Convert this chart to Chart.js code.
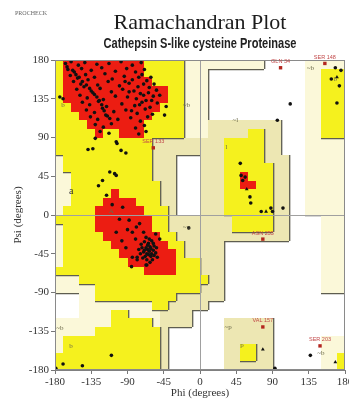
<!DOCTYPE html>
<html>
<head>
<meta charset="utf-8">
<script src="https://cdn.jsdelivr.net/npm/chart.js@4.4.1/dist/chart.umd.min.js"></script>
<style>
  html, body { margin: 0; padding: 0; background: #fff; }
  canvas { display: block; }
</style>
</head>
<body>
<canvas id="rama" width="349" height="404"></canvas>
<script>
// ---- Plot text ----
const titleText = 'Ramachandran Plot';
const subtitleText = 'Cathepsin S-like cysteine Proteinase';
const programTag = 'PROCHECK';
const xAxisTitle = 'Phi (degrees)';
const yAxisTitle = 'Psi (degrees)';
const tickValues = [-180, -135, -90, -45, 0, 45, 90, 135, 180];

// ---- Region map: 10-degree cells, rows from psi 180 downwards, columns from phi -180 ----
// R core, Y allowed, G / P generously allowed, W disallowed
const cellSize = 10;
const regionRows = [
  'YRRRRRRRRRRYYYYYPPPPPPPPPPWWWWWPPPPP',
  'YRRRRRRRRRRYYYYYPPPWWWWWWWWWWWWPPYYY',
  'YRRRRRRRRRRRYYYYPPPWWWWWWWWWWWWPPYYY',
  'YRRRRRRRRRRRRRYYPPPWWWWWWWWWWWWPPYYY',
  'YRRRRRRRRRRRRRYYPPPWWWWWWWWWWWWPPYYY',
  'YYRRRRRRRRRRRYYYPPPWWWWWWWWWWWWPPYYY',
  'YYYRRRRRRRRRYYYYPPPWWWWWWWWWWWWPPYYY',
  'YYYYRRRRRRRYYYYYPPPGGGGGGGGGWWWPPYYY',
  'YYYYYRYYRRRYYYYYPPPGGGGGYYGGWWWPPYYY',
  'YYYYYYYYYYYYGGGGGGGGGYYYYYGGWWWPPPPP',
  'YYYYYYYYYYYYGGGGGGGGGYYYYYGGWWWPPPPP',
  'PYYYYYYYYYYYGGGWWWGGGYYYYYGGGWWPPPPP',
  'PYYYYYYYYYYYGGGWWWGGGYYYYYYGGWWPPPPP',
  'PPYYYYYYYYYYGGGWWWGGGYYRYYYGGWWPPPPP',
  'PPYYYYYYYYYYYGGWWWGGGYYRRYYGGWWPPPPP',
  'PPYYYYYRYYYYYGGWWWGGGYYYYYYGGWWPPPPP',
  'PPYYYYRRRRYYYGGWWWGGGYYYYYYGGWWPPPPP',
  'PYYYYRRRRRRYYYGWWWGGGYYYYYYGGWWPPPPP',
  'YYYYYRRRRRRRYYGGGGGGGGYYYYYGGWWWWPPP',
  'PYYYYRRRRRRRYYGGGGGGGGYYYYYGGWWWWPPP',
  'PYYYYYRRRRRRRYYGGGGGGGGGGGGGGWWWWPPP',
  'PYYYYYYRRRRRRRYYGGGGGWWWWWWWWWWWWPPP',
  'PYYYYYYYRRRRRRRYGGGGGWWWWWWWWWWWWPPP',
  'PYYYYYYYYRRRRRRYYYGGGWWWWWWWWWWWWPPP',
  'YYYYYYYYYYYRRRRYYYGGGWWWWWWWWWWWWPPP',
  'PPPYYYYYYYYYYYYYYYYGGWWWWWWWWWWWWPPP',
  'PPPPPYYYYYYYYYYYYYGGGWWWWWWWWWWWWPPP',
  'WWWPPYYYYYYYYYYGGGGGGWWWWWWWWWWWWWWW',
  'WWWPPPPPPPPPYYGGGGGWWWWWWWWWWWWWWWWW',
  'WWWPPPPYYPPPPGGGGWWWWWWWWWWWWWWWWWWW',
  'PPPPPPPYYYYYPGGGGWWWWGGGGGGWWWWWWWWW',
  'PPPPPYYYYYYYYGWWWWWWWGGGGGGWWWWWWWWW',
  'PYYYYYYYYYYYYGWWWWWWWGGGGGGWWWWWWPPP',
  'PYYYYYYYYYYYYGWWWWWWWGGYYGGWWWWWWPPP',
  'YYYYYYYYYYYYYGWWWWWWWGGYYGGWWWWWWPPY',
  'YYYYYYYYYYYYYGWWWWWWWGGGGGGWWWWWWPPY'
];

// ---- Residue phi/psi angles ----
const betaResidues = [
  [-167,176],[-160,178],[-151,174],[-143,177],[-128,175],[-113,176],[-98,178],[-84,174],[-73,177],
  [-164,169],[-156,166],[-147,170],[-135,168],[-122,171],[-105,167],[-91,170],[-80,166],[-69,169],
  [-161,162],[-152,159],[-142,163],[-131,160],[-118,164],[-109,158],[-94,161],[-84,157],[-72,163],[-61,160],
  [-157,155],[-148,152],[-139,157],[-127,151],[-114,155],[-100,150],[-88,153],[-77,149],[-66,156],[-57,152],
  [-153,146],[-144,149],[-135,144],[-124,147],[-110,143],[-96,146],[-82,144],[-74,141],[-63,148],[-54,145],
  [-149,139],[-140,136],[-131,140],[-120,134],[-105,138],[-90,137],[-79,135],[-70,139],[-60,133],[-50,139],
  [-146,131],[-137,128],[-126,132],[-116,126],[-97,129],[-81,127],[-72,131],[-62,125],[-53,130],
  [-141,122],[-131,119],[-121,124],[-107,120],[-92,122],[-78,118],[-68,123],[-59,117],
  [-136,114],[-127,111],[-115,115],[-102,111],[-86,113],[-74,109],[-65,114],
  [-130,105],[-120,102],[-110,106],[-80,101],[-69,104],
  [-124,97],[-113,95],[-76,94],[-67,97],
  [-165,172],[-158,168],[-154,163],[-150,160],[-146,155],[-141,151],[-137,147],[-133,142],
  [-128,137],[-125,133],[-122,128],[-119,121],[-117,116],[-112,112],
  [-76,160],[-70,152],[-64,142],[-58,138],[-67,133],[-75,128],[-85,121],[-88,143],[-93,155]
];
const alphaResidues = [
  [-63,-42],[-65,-40],[-60,-45],[-67,-38],[-62,-37],[-58,-41],[-66,-45],[-70,-43],[-61,-48],
  [-64,-33],[-57,-36],[-68,-48],[-72,-38],[-59,-52],[-55,-44],[-63,-28],[-69,-31],[-74,-45],
  [-66,-52],[-60,-30],[-54,-38],[-71,-50],[-62,-55],[-76,-40],[-67,-26],[-57,-47],[-65,-35],
  [-61,-39],[-69,-41],[-64,-46],[-58,-33],[-73,-34],[-53,-49],[-78,-49],[-66,-58],[-80,-28],
  [-84,-20],[-90,-17],[-79,-14],[-88,-6],[-96,9],[-109,12],[-116,23],[-78,-52],[-84,-49],
  [-67,-58],[-55,-22],[-100,-5],[-92,-38],[-97,-30],[-104,-20],[-85,-60],[-50,-28],[-75,-10],[-70,-20]
];
const otherResidues = [
  [-130,89],[-139,76],[-133,77],[-104,85],[-103,83],[-98,75],[-92,72],[-112,50],[-106,48],
  [-104,46],[-121,40],[-126,34],[-42,126],[-44,116],[-174,137],[-170,135],
  [50,60],[51,46],[56,44],[53,40],[62,21],[63,14],[76,4],[88,8],[90,4],[103,8],[96,110],
  [112,129],[168,171],[175,168],[173,150],[163,158],[170,130],
  [-179,-178],[-170,-173],[-146,-175],[-110,-163],[93,-178],[137,-163],[-14,-15]
];
const glycineResidues = [[78,-156],[168,-171],[82,4],[58,30],[170,160]];
const flaggedNames = ['GLN 34', 'SER 148', 'SER 133', 'ASN 255', 'VAL 157', 'SER 203'];
const flaggedPhi = [100, 155, -58, 78, 78, 149];
const flaggedPsi = [171, 176, 78, -28, -130, -152];

// ---- Region labels ----
const regionLabelText = ['b', 'a', 'A', '~b', '~l', 'l', '~a', '~b', 'b', '~p', 'p', '~b', '~b', 'b'];
const regionLabelPhi = [-170, -160, -110, -17, 44, 33, -17, -174, -160, 35, 52, 150, 137, 168];
const regionLabelPsi = [128, 27, 5, 128, 110, 79, -14, -131, -152, -130, -151, -161, 170, 158];

const toPoints = list => list.map(([x, y]) => ({ x, y }));

const levelOf = { W: 0, P: 1, G: 1, Y: 2, R: 3 };
const fillOf = { W: null, P: '#fbf8d9', G: '#ede7b3', Y: '#f5f11e', R: '#ec1d12' };

// Draws the region cells and their shaded lower/right edges
const regionPlugin = {
  id: 'regions',
  beforeDraw(chart) {
    const { ctx, scales: { x, y } } = chart;
    ctx.save();
    ctx.fillStyle = '#ffffff';
    ctx.fillRect(0, 0, chart.width, chart.height);
    const px = v => Math.round(x.getPixelForValue(v));
    const py = v => Math.round(y.getPixelForValue(v));
    regionRows.forEach((row, r) => {
      const psiTop = 180 - r * cellSize;
      for (let c = 0; c < row.length; c++) {
        const f = fillOf[row[c]];
        if (!f) continue;
        const phiL = -180 + c * cellSize;
        const x0 = px(phiL), x1 = px(phiL + cellSize);
        const y0 = py(psiTop), y1 = py(psiTop - cellSize);
        ctx.fillStyle = f;
        ctx.fillRect(x0, y0, x1 - x0, y1 - y0);
      }
    });
    ctx.strokeStyle = '#5e5d50';
    ctx.lineWidth = 1.3;
    ctx.beginPath();
    regionRows.forEach((row, r) => {
      const psiTop = 180 - r * cellSize;
      for (let c = 0; c < row.length; c++) {
        const lv = levelOf[row[c]];
        if (lv === 0 || lv === 3) continue;
        const phiL = -180 + c * cellSize;
        const x0 = px(phiL), x1 = px(phiL + cellSize);
        const y0 = py(psiTop), y1 = py(psiTop - cellSize);
        if (c < row.length - 1 && levelOf[row[c + 1]] < lv) {
          ctx.moveTo(x1 + 0.7, y0); ctx.lineTo(x1 + 0.7, y1);
        }
        if (r < regionRows.length - 1 && levelOf[regionRows[r + 1][c]] < lv) {
          ctx.moveTo(x0, y1 + 0.7); ctx.lineTo(x1, y1 + 0.7);
        }
      }
    });
    ctx.stroke();
    ctx.restore();
  },
  afterDatasetsDraw(chart) {
    const { ctx, chartArea: a, scales: { x, y } } = chart;
    ctx.save();
    // frame
    ctx.strokeStyle = '#8a8a8a';
    ctx.lineWidth = 1;
    ctx.strokeRect(a.left + 0.5, a.top + 0.5, a.right - a.left - 1, a.bottom - a.top - 1);
    // region letters
    ctx.textAlign = 'center';
    ctx.textBaseline = 'middle';
    regionLabelText.forEach((t, i) => {
      ctx.font = t === 'a' ? '10px "Liberation Serif", serif' : '7px "Liberation Serif", serif';
      ctx.fillStyle = t === 'a' ? '#333' : '#6b6a4a';
      ctx.fillText(t, x.getPixelForValue(regionLabelPhi[i]), y.getPixelForValue(regionLabelPsi[i]));
    });
    // flagged residue names
    ctx.font = '5.5px "Liberation Sans", sans-serif';
    ctx.fillStyle = '#c2494a';
    flaggedNames.forEach((t, i) => {
      ctx.fillText(t, x.getPixelForValue(flaggedPhi[i]), y.getPixelForValue(flaggedPsi[i]) - 6);
    });
    ctx.restore();
  },
  afterDraw(chart) {
    const { ctx, chartArea: a } = chart;
    ctx.save();
    ctx.font = '6px "Liberation Serif", serif';
    ctx.fillStyle = '#666';
    ctx.textBaseline = 'middle';
    ctx.fillText(programTag, 15, 13);
    // condensed subtitle, centred over the plot area
    ctx.translate((a.left + a.right) / 2, 44);
    ctx.scale(0.79, 1);
    ctx.font = 'bold 14px "Liberation Sans", Arial, sans-serif';
    ctx.fillStyle = '#222';
    ctx.textAlign = 'center';
    ctx.fillText(subtitleText, 0, 0);
    ctx.restore();
  }
};

const tickFont = { family: '"Liberation Serif", serif', size: 11 };

new Chart(document.getElementById('rama'), {
  type: 'scatter',
  data: {
    datasets: [
      { data: toPoints(betaResidues), pointStyle: 'circle', pointRadius: 1.8, backgroundColor: '#111', borderWidth: 0 },
      { data: toPoints(alphaResidues), pointStyle: 'circle', pointRadius: 1.8, backgroundColor: '#111', borderWidth: 0 },
      { data: toPoints(otherResidues), pointStyle: 'circle', pointRadius: 1.8, backgroundColor: '#111', borderWidth: 0 },
      { data: toPoints(glycineResidues), pointStyle: 'triangle', pointRadius: 2.2, backgroundColor: '#111', borderWidth: 0 },
      { data: flaggedPhi.map((v, i) => ({ x: v, y: flaggedPsi[i] })), pointStyle: 'rect', pointRadius: 2.4, backgroundColor: '#b3261e', borderWidth: 0 }
    ]
  },
  options: {
    responsive: false,
    animation: false,
    devicePixelRatio: 1,
    layout: { padding: { left: 0, right: 1, top: 0, bottom: 0 } },
    plugins: {
      legend: { display: false },
      tooltip: { enabled: false },
      title: {
        display: true, text: titleText, fullSize: false, color: '#1c1c1c',
        font: { family: '"Liberation Serif", serif', size: 22, weight: 'normal' },
        padding: { top: 10, bottom: 23.6 }
      },
      subtitle: { display: false }
    },
    scales: {
      x: {
        type: 'linear', min: -180, max: 180,
        afterBuildTicks: s => { s.ticks = tickValues.map(v => ({ value: v })); },
        afterFit: s => { s.height = 34; s.paddingLeft = 0; s.paddingRight = 0; },
        ticks: { font: tickFont, color: '#333', padding: 2, maxRotation: 0, autoSkip: false },
        grid: {
          color: c => (c.tick && c.tick.value === 0 ? '#a0a0a0' : 'rgba(0,0,0,0)'),
          lineWidth: 1, drawTicks: true, tickLength: 4, tickColor: '#777'
        },
        border: { display: true, color: '#808080', width: 1 },
        title: { display: true, text: xAxisTitle, color: '#333', font: tickFont, padding: { top: 0, bottom: 4 } }
      },
      y: {
        type: 'linear', min: -180, max: 180,
        afterBuildTicks: s => { s.ticks = tickValues.map(v => ({ value: v })); },
        afterFit: s => { s.width = 55; s.paddingTop = 0; s.paddingBottom = 0; },
        ticks: { font: tickFont, color: '#333', padding: 2, autoSkip: false },
        grid: {
          color: c => (c.tick && c.tick.value === 0 ? '#a0a0a0' : 'rgba(0,0,0,0)'),
          lineWidth: 1, drawTicks: true, tickLength: 4, tickColor: '#777'
        },
        border: { display: true, color: '#808080', width: 1 },
        title: { display: true, text: yAxisTitle, color: '#333', font: tickFont, padding: { top: 12, bottom: 0 } }
      }
    }
  },
  plugins: [regionPlugin]
});
</script>
</body>
</html>
